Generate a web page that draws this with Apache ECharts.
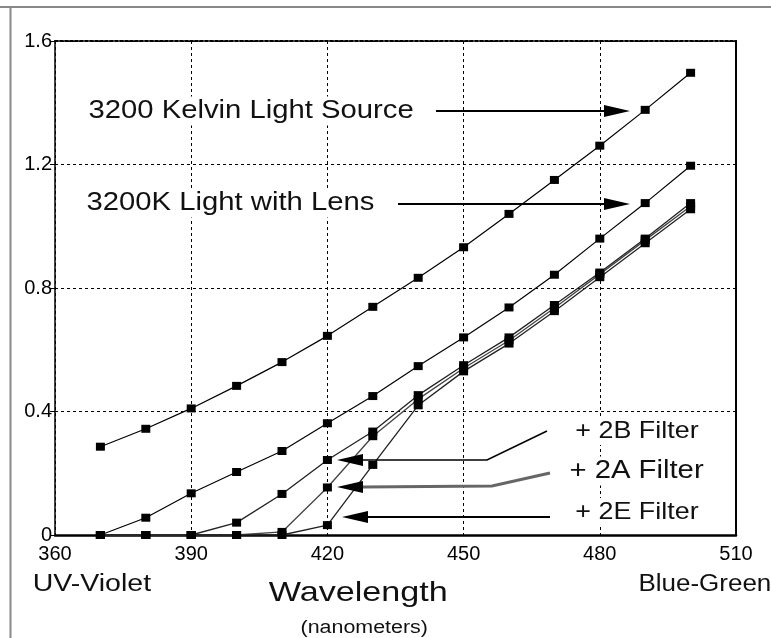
<!DOCTYPE html>
<html>
<head>
<meta charset="utf-8">
<script src="https://cdn.jsdelivr.net/npm/echarts@6/dist/echarts.min.js"></script>
<style>
  html, body { margin: 0; padding: 0; background: #fff; }
  #chart { width: 771px; height: 638px; }
</style>
</head>
<body>
<div id="chart"></div>
<script>
// wavelengths (nm) of the measured points
var wavelengths = [370, 380, 390, 400, 410, 420, 430, 440, 450, 460, 470, 480, 490, 500];

// relative output
var kelvinSource = [0.286, 0.344, 0.41, 0.483, 0.56, 0.645, 0.739, 0.833, 0.932, 1.04, 1.15, 1.261, 1.377, 1.497];
var withLens     = [0, 0.056, 0.135, 0.204, 0.272, 0.362, 0.45, 0.547, 0.64, 0.737, 0.843, 0.96, 1.075, 1.196];
var filter2B     = [0, 0, 0, 0.04, 0.133, 0.243, 0.335, 0.453, 0.55, 0.64, 0.745, 0.85, 0.96, 1.075];
var filter2A     = [0, 0, 0, 0, 0.01, 0.154, 0.32, 0.44, 0.54, 0.63, 0.735, 0.845, 0.955, 1.065];
var filter2E     = [0, 0, 0, 0, 0, 0.032, 0.227, 0.42, 0.53, 0.62, 0.725, 0.835, 0.945, 1.055];

var FONT = 'Liberation Sans';

function pairs(vals) {
    var out = [];
    for (var i = 0; i < wavelengths.length; i++) {
        out.push([wavelengths[i], vals[i]]);
    }
    return out;
}

function mkSeries(name, vals, color, width) {
    return {
        name: name,
        type: 'line',
        data: pairs(vals),
        symbol: 'rect',
        symbolSize: [9, 8],
        itemStyle: { color: '#000' },
        lineStyle: { color: color, width: width },
        z: 3
    };
}

// text with a horizontal stretch, like the scanned original
function label(text, x, y, size, sx) {
    return {
        type: 'text', x: x, y: y, scaleX: sx, z: 50,
        style: {
            text: text, fontSize: size, fontFamily: FONT, fill: '#111',
            align: 'left', verticalAlign: 'middle',
            backgroundColor: '#fff', padding: [2, 3]
        }
    };
}

function arrow(points, color, width) {
    var tip = points[points.length - 1];
    var dir = tip[0] > points[points.length - 2][0] ? -1 : 1;
    var base = tip[0] + dir * 26;
    var pts = points.slice(0, points.length - 1).concat([[base, tip[1]]]);
    return [
        { type: 'polyline', z: 40, shape: { points: pts }, style: { stroke: color, lineWidth: width, fill: null } },
        { type: 'polygon', z: 41, shape: { points: [tip, [base, tip[1] - 6], [base, tip[1] + 6]] }, style: { fill: '#000' } }
    ];
}

var chart = echarts.init(document.getElementById('chart'));

var graphics = [
    // scan border
    { type: 'line', shape: { x1: 0, y1: 7, x2: 771, y2: 7 }, style: { stroke: '#888', lineWidth: 2 } },
    { type: 'line', shape: { x1: 10.5, y1: 7, x2: 10.5, y2: 638 }, style: { stroke: '#888', lineWidth: 2 } },

    label('3200 Kelvin Light Source', 85, 111, 25, 1.17),
    label('3200K Light with Lens', 83, 203, 25, 1.17),
    label('+ 2B Filter', 572, 431, 24, 1.12),
    label('+ 2A Filter', 566, 471, 25, 1.17),
    label('+ 2E Filter', 572, 512, 24, 1.12),
    label('UV-Violet', 29, 585, 23, 1.24),
    label('Blue-Green', 635, 585, 23, 1.13),
    label('Wavelength', 265, 593, 28, 1.22),
    label('(nanometers)', 297, 628, 18, 1.19)
];
graphics = graphics
    .concat(arrow([[436, 111], [630, 111]], '#000', 2))
    .concat(arrow([[398, 204], [630, 204]], '#000', 2))
    .concat(arrow([[547, 431], [487, 460], [337, 460]], '#000', 1.6))
    .concat(arrow([[550, 473], [492, 486], [337, 487]], '#666', 3))
    .concat(arrow([[550, 517], [342, 517]], '#000', 2));

var option = {
    animation: false,
    backgroundColor: '#fff',
    grid: { left: 55, right: 35, top: 41, bottom: 103, containLabel: false },
    xAxis: [{
        type: 'value', min: 360, max: 510, interval: 30,
        axisLine: { show: true, onZero: false, lineStyle: { color: '#000', width: 2.5 } },
        axisTick: { show: false },
        axisLabel: { color: '#000', fontSize: 20, fontFamily: FONT, margin: 9 },
        splitLine: { show: true, lineStyle: { color: '#000', width: 1, type: [3, 3] } }
    }, {
        type: 'value', min: 360, max: 510, interval: 30, position: 'top',
        axisLine: { show: true, onZero: false, lineStyle: { color: '#000', width: 2, type: [3, 2] } },
        axisTick: { show: false }, axisLabel: { show: false }, splitLine: { show: false }
    }],
    yAxis: [{
        type: 'value', min: 0, max: 1.6, interval: 0.4,
        axisLine: { show: true, onZero: false, lineStyle: { color: '#000', width: 1.5 } },
        axisTick: { show: true, length: 5, lineStyle: { color: '#000' } },
        axisLabel: { color: '#000', fontSize: 20, fontFamily: FONT, margin: 3 },
        splitLine: { show: true, lineStyle: { color: '#000', width: 1, type: [3, 3] } }
    }, {
        type: 'value', min: 0, max: 1.6, interval: 0.4, position: 'right',
        axisLine: { show: true, onZero: false, lineStyle: { color: '#000', width: 2 } },
        axisTick: { show: false }, axisLabel: { show: false }, splitLine: { show: false }
    }],
    series: [
        mkSeries('3200 Kelvin Light Source', kelvinSource, '#000', 1.2),
        mkSeries('3200K Light with Lens', withLens, '#000', 1.2),
        mkSeries('+ 2B Filter', filter2B, '#222', 1.3),
        mkSeries('+ 2A Filter', filter2A, '#444', 1.3),
        mkSeries('+ 2E Filter', filter2E, '#222', 1.3)
    ],
    graphic: graphics
};

chart.setOption(option);
</script>
</body>
</html>
